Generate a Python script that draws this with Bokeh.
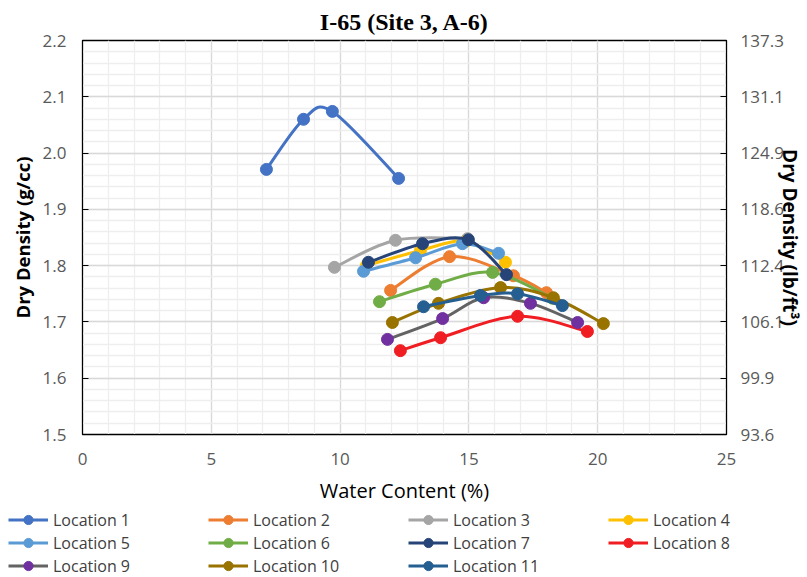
from bokeh.plotting import figure
from bokeh.models import (ColumnDataSource, FixedTicker, LinearAxis, Range1d,
                          Legend, LegendItem)
from bokeh.embed import file_html
from bokeh.resources import INLINE

# ---------------- data ----------------
title_text = "I-65 (Site 3, A-6)"
x_label = "Water Content (%)"
y_label = "Dry Density (g/cc)"
y2_label = "Dry Density (lb/ft\u00b3)"

names = ["Location 1", "Location 2", "Location 3", "Location 4", "Location 5",
         "Location 6", "Location 7", "Location 8", "Location 9", "Location 10",
         "Location 11"]

loc1_w = [7.14, 8.58, 9.70, 12.27]
loc1_d = [1.971, 2.060, 2.074, 1.955]
loc2_w = [11.96, 14.25, 16.73, 18.01]
loc2_d = [1.756, 1.816, 1.782, 1.752]
loc3_w = [9.78, 12.15, 14.95]
loc3_d = [1.797, 1.845, 1.848]
loc4_w = [11.02, 13.12, 14.87, 16.42]
loc4_d = [1.800, 1.827, 1.843, 1.806]
loc5_w = [10.91, 12.93, 14.75, 16.15]
loc5_d = [1.790, 1.814, 1.839, 1.822]
loc6_w = [11.53, 13.70, 15.92, 18.25]
loc6_d = [1.736, 1.767, 1.788, 1.742]
loc7_w = [11.10, 13.20, 14.98, 16.46]
loc7_d = [1.806, 1.839, 1.846, 1.784]
loc8_w = [12.34, 13.90, 16.89, 19.60]
loc8_d = [1.649, 1.672, 1.710, 1.683]
loc9_w = [11.84, 13.98, 15.57, 17.39, 19.22]
loc9_d = [1.669, 1.706, 1.743, 1.733, 1.699]
loc10_w = [12.03, 13.82, 16.23, 18.28, 20.22]
loc10_d = [1.699, 1.733, 1.761, 1.743, 1.697]
loc11_w = [13.24, 15.45, 16.89, 18.63]
loc11_d = [1.727, 1.747, 1.750, 1.729]

water = [loc1_w, loc2_w, loc3_w, loc4_w, loc5_w, loc6_w, loc7_w, loc8_w,
         loc9_w, loc10_w, loc11_w]
density = [loc1_d, loc2_d, loc3_d, loc4_d, loc5_d, loc6_d, loc7_d, loc8_d,
           loc9_d, loc10_d, loc11_d]

x_ticks = [0, 5, 10, 15, 20, 25]
y_ticks = [1.5, 1.6, 1.7, 1.8, 1.9, 2.0, 2.1, 2.2]
y_tick_labels = ["1.5", "1.6", "1.7", "1.8", "1.9", "2.0", "2.1", "2.2"]
y2_tick_labels = ["93.6", "99.9", "106.1", "112.4", "118.6", "124.9", "131.1", "137.3"]

line_colors = ["#4472C4", "#ED7D31", "#A5A5A5", "#FFC000", "#5B9BD5", "#70AD47",
               "#264478", "#F01E23", "#636363", "#997300", "#255E91"]
marker_colors = ["#4472C4", "#ED7D31", "#A5A5A5", "#FFC000", "#5B9BD5", "#70AD47",
                 "#264478", "#F01E23", "#7030A0", "#997300", "#255E91"]

SANS = "Open Sans"


def smooth_segments(xs, ys):
    """Cubic Bezier segments through the points (Catmull-Rom style, like a smoothed line)."""
    n = len(xs)
    seg = dict(x0=[], y0=[], x1=[], y1=[], cx0=[], cy0=[], cx1=[], cy1=[])
    for i in range(n - 1):
        xa, ya, xb, yb = xs[i], ys[i], xs[i + 1], ys[i + 1]
        xp, yp = (xs[i - 1], ys[i - 1]) if i > 0 else (xa, ya)
        xn, yn = (xs[i + 2], ys[i + 2]) if i + 2 < n else (xb, yb)
        seg["x0"].append(xa); seg["y0"].append(ya)
        seg["x1"].append(xb); seg["y1"].append(yb)
        seg["cx0"].append(xa + (xb - xp) / 6.0); seg["cy0"].append(ya + (yb - yp) / 6.0)
        seg["cx1"].append(xb - (xn - xa) / 6.0); seg["cy1"].append(yb - (yn - ya) / 6.0)
    return seg


# ---------------- main figure ----------------
p = figure(width=807, height=507, output_backend="svg", toolbar_location=None,
           x_range=Range1d(0, 25), y_range=Range1d(1.5, 2.2),
           min_border_left=82, min_border_right=81, min_border_top=40,
           min_border_bottom=73)

p.title.text = title_text
p.title.align = "center"
p.title.text_font = "Liberation Serif"
p.title.text_font_style = "bold"
p.title.text_font_size = "24px"
p.title.text_color = "#000000"
p.title.standoff = 11

p.outline_line_color = "#000000"
p.outline_line_width = 1.3

xt = FixedTicker(ticks=x_ticks, minor_ticks=list(range(0, 26)))
yt = FixedTicker(ticks=y_ticks, minor_ticks=[round(1.5 + 0.02 * i, 2) for i in range(36)])

xa = p.xaxis[0]
xa.ticker = xt
xa.axis_label = x_label
xa.axis_label_text_font = SANS
xa.axis_label_text_font_style = "normal"
xa.axis_label_text_font_size = "20px"
xa.axis_label_text_color = "#000000"
xa.axis_label_standoff = 9
xa.major_label_text_font = SANS
xa.major_label_text_font_size = "17px"
xa.major_label_text_color = "#595959"
xa.major_label_standoff = 18
xa.major_tick_in = 0
xa.major_tick_out = 0
xa.minor_tick_in = 0
xa.minor_tick_out = 0
xa.axis_line_color = "#000000"

ya = p.yaxis[0]
ya.ticker = yt
ya.major_label_overrides = dict(zip(y_ticks, y_tick_labels))
ya.axis_label = y_label
ya.axis_label_text_font = SANS
ya.axis_label_text_font_style = "bold"
ya.axis_label_text_font_size = "18.5px"
ya.axis_label_text_color = "#000000"
ya.axis_label_standoff = 5
ya.major_label_text_font = SANS
ya.major_label_text_font_size = "17px"
ya.major_label_text_color = "#595959"
ya.major_label_standoff = 16
ya.major_tick_in = 6
ya.major_tick_out = 0
ya.major_tick_line_color = "#000000"
ya.minor_tick_in = 0
ya.minor_tick_out = 0
ya.axis_line_color = "#000000"

ra = LinearAxis(ticker=FixedTicker(ticks=y_ticks),
                major_label_overrides=dict(zip(y_ticks, y2_tick_labels)))
ra.axis_label = y2_label
ra.axis_label_text_font = SANS
ra.axis_label_text_font_style = "bold"
ra.axis_label_text_font_size = "19px"
ra.axis_label_text_color = "#000000"
ra.axis_label_standoff = -10
ra.major_label_text_font = SANS
ra.major_label_text_font_size = "17px"
ra.major_label_text_color = "#595959"
ra.major_label_standoff = 14
ra.major_tick_in = 6
ra.major_tick_out = 0
ra.major_tick_line_color = "#000000"
ra.minor_tick_in = 0
ra.minor_tick_out = 0
ra.axis_line_color = "#000000"
p.add_layout(ra, "right")

p.xgrid.ticker = xt
p.ygrid.ticker = yt
for g in (p.xgrid[0], p.ygrid[0]):
    g.grid_line_color = "#D9D9D9"
    g.grid_line_width = 1.3
    g.minor_grid_line_color = "#EEEEEE"
    g.minor_grid_line_width = 1.3

# ---------------- legend strip ----------------
# A strip under the chart; its ranges lie outside the data so that only the
# legend (which reuses the same data sources and styles) is visible there.
lg = figure(width=807, height=70, output_backend="svg", toolbar_location=None,
            x_range=Range1d(-2, -1), y_range=Range1d(-2, -1),
            x_axis_location=None, y_axis_location=None,
            min_border_left=0, min_border_right=0, min_border_top=0,
            min_border_bottom=0)
lg.grid.visible = False
lg.outline_line_color = None

items = []
for name, ws, ds, lc, mc in zip(names, water, density, line_colors, marker_colors):
    seg_src = ColumnDataSource(smooth_segments(ws, ds))
    p.bezier(x0="x0", y0="y0", x1="x1", y1="y1", cx0="cx0", cy0="cy0",
             cx1="cx1", cy1="cy1", source=seg_src, line_color=lc, line_width=3)
    pt_src = ColumnDataSource(dict(w=ws, d=ds))
    p.scatter(x="w", y="d", source=pt_src, marker="circle", size=12,
              fill_color=mc, line_color=mc, line_width=1)
    k_line = lg.line(x="w", y="d", source=pt_src, line_color=lc, line_width=3)
    k_pts = lg.scatter(x="w", y="d", source=pt_src, marker="circle", size=12,
                       fill_color=mc, line_color=mc, line_width=1)
    items.append(LegendItem(label=name, renderers=[k_line, k_pts]))

legend = Legend(items=items, orientation="horizontal", ncols=4,
                location=(8, 0), glyph_width=40, glyph_height=23,
                label_height=23, label_width=155, label_standoff=5, spacing=0,
                padding=0, margin=0, border_line_color=None,
                background_fill_alpha=0, label_text_font=SANS,
                label_text_font_size="16px", label_text_color="#404040")
lg.add_layout(legend, "center")

open("out.html", "w").write(file_html([p, lg], INLINE))
